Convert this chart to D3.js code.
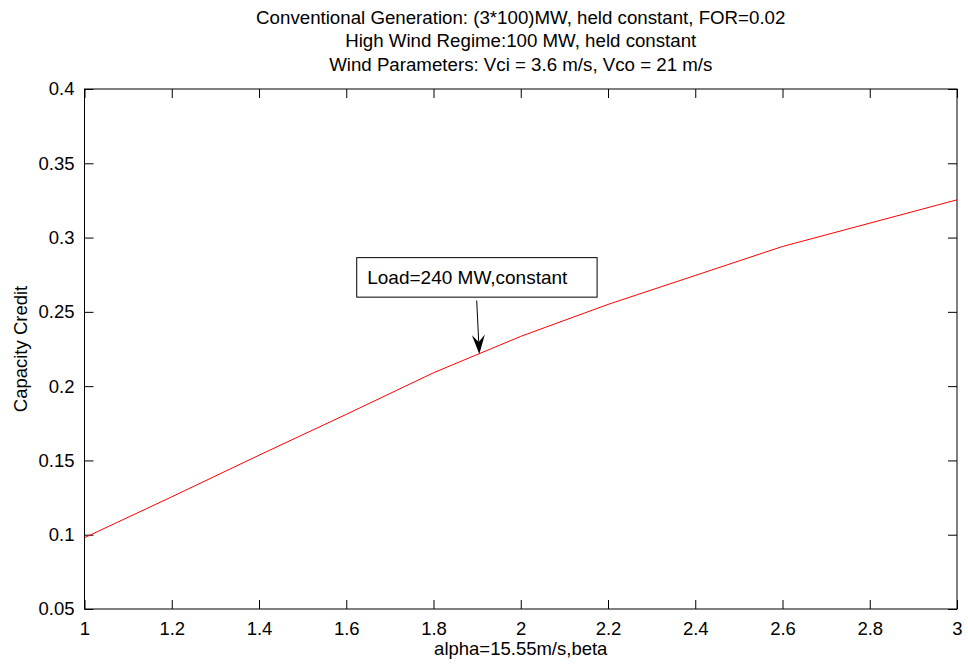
<!DOCTYPE html>
<html>
<head>
<meta charset="utf-8">
<script src="https://cdn.jsdelivr.net/npm/d3@7"></script>
<style>
  body { margin: 0; background: #fff; }
  svg text { font-family: 'Liberation Sans', Arial, sans-serif; fill: #000; }
</style>
</head>
<body>
<svg id="chart" width="968" height="665"></svg>
<script>
// alpha (shape parameter) values on the x axis
const alphas = [1, 1.2, 1.4, 1.6, 1.8, 2, 2.2, 2.4, 2.6, 2.8, 3]
// capacity credit
const credits = [0.098, 0.1255, 0.1535, 0.181, 0.209, 0.2335, 0.255, 0.2745, 0.294, 0.3097, 0.3254]

const xTicks = [1, 1.2, 1.4, 1.6, 1.8, 2, 2.2, 2.4, 2.6, 2.8, 3]
const yTicks = [0.05, 0.1, 0.15, 0.2, 0.25, 0.3, 0.35, 0.4]

const titleLines = [
  'Conventional Generation: (3*100)MW, held constant, FOR=0.02',
  'High Wind Regime:100 MW, held constant',
  'Wind Parameters: Vci = 3.6 m/s, Vco = 21 m/s'
]
const xLabel = 'alpha=15.55m/s,beta'
const yLabel = 'Capacity Credit'
const noteText = 'Load=240 MW,constant'

const margin = { top: 89, right: 11, bottom: 56, left: 84.5 }
const width = 968
const height = 665
const fontSize = 18.5

const svg = d3.select('#chart')

const x = d3.scaleLinear()
  .domain([1, 3])
  .range([margin.left, width - margin.right])

const y = d3.scaleLinear()
  .domain([0.05, 0.4])
  .range([height - margin.bottom, margin.top])

const tickLen = 9

// frame
svg.append('rect')
  .attr('x', x(1))
  .attr('y', y(0.4))
  .attr('width', x(3) - x(1))
  .attr('height', y(0.05) - y(0.4))
  .attr('fill', 'none')
  .attr('stroke', '#000')
  .attr('stroke-width', 1)

// axes with inward ticks (bottom/top, left/right)
const xAxis = g => g
  .attr('transform', `translate(0,${y(0.05)})`)
  .call(d3.axisBottom(x).tickValues(xTicks).tickSizeInner(-tickLen).tickSizeOuter(0).tickPadding(tickLen + 4).tickFormat(d3.format('')))

const xAxisTop = g => g
  .attr('transform', `translate(0,${y(0.4)})`)
  .call(d3.axisTop(x).tickValues(xTicks).tickSizeInner(-tickLen).tickSizeOuter(0).tickFormat(''))

const yAxis = g => g
  .attr('transform', `translate(${x(1)},0)`)
  .call(d3.axisLeft(y).tickValues(yTicks).tickSizeInner(-tickLen).tickSizeOuter(0).tickPadding(tickLen + 1).tickFormat(d3.format('')))

const yAxisRight = g => g
  .attr('transform', `translate(${x(3)},0)`)
  .call(d3.axisRight(y).tickValues(yTicks).tickSizeInner(-tickLen).tickSizeOuter(0).tickFormat(''))

;[xAxis, xAxisTop, yAxis, yAxisRight].forEach(ax => {
  const g = svg.append('g').call(ax)
  g.select('.domain').remove()
  g.selectAll('line').attr('stroke', '#000')
  g.selectAll('text')
    .style('font-family', "'Liberation Sans', Arial, sans-serif")
    .style('font-size', fontSize + 'px')
})

// curve
const line = d3.line()
  .x((d, i) => x(alphas[i]))
  .y(d => y(d))

svg.append('path')
  .datum(credits)
  .attr('d', line)
  .attr('fill', 'none')
  .attr('stroke', '#ff0000')
  .attr('stroke-width', 1)

// titles
titleLines.forEach((t, i) => {
  svg.append('text')
    .attr('x', (x(1) + x(3)) / 2)
    .attr('y', 23.5 + i * 23.5)
    .attr('text-anchor', 'middle')
    .style('font-size', '18.7px')
    .text(t)
})

// axis labels
svg.append('text')
  .attr('x', (x(1) + x(3)) / 2)
  .attr('y', 655)
  .attr('text-anchor', 'middle')
  .style('font-size', fontSize + 'px')
  .text(xLabel)

svg.append('text')
  .attr('transform', `translate(27,${(y(0.05) + y(0.4)) / 2}) rotate(-90)`)
  .attr('text-anchor', 'middle')
  .style('font-size', fontSize + 'px')
  .text(yLabel)

// annotation box and arrow (positions in data units)
const noteBox = { x0: 1.624, x1: 2.175, y0: 0.2865, y1: 0.2599 }
const arrowFrom = [1.899, 0.2576]
const arrowTo = [1.905, 0.2217]

svg.append('rect')
  .attr('x', x(noteBox.x0))
  .attr('y', y(noteBox.y0))
  .attr('width', x(noteBox.x1) - x(noteBox.x0))
  .attr('height', y(noteBox.y1) - y(noteBox.y0))
  .attr('fill', '#fff')
  .attr('stroke', '#000')
  .attr('stroke-width', 1)

svg.append('text')
  .attr('x', x(noteBox.x0) + 10.5)
  .attr('y', (y(noteBox.y0) + y(noteBox.y1)) / 2 + 6.5)
  .style('font-size', '19px')
  .text(noteText)

const ax0 = x(arrowFrom[0]), ay0 = y(arrowFrom[1])
const ax1 = x(arrowTo[0]), ay1 = y(arrowTo[1])
const ang = Math.atan2(ay1 - ay0, ax1 - ax0)
const headLen = 19, headW = 6.5, notch = 12
const pt = (l, w) => [ax1 - l * Math.cos(ang) - w * Math.sin(ang), ay1 - l * Math.sin(ang) + w * Math.cos(ang)]

svg.append('line')
  .attr('x1', ax0).attr('y1', ay0)
  .attr('x2', ax1 - notch * Math.cos(ang)).attr('y2', ay1 - notch * Math.sin(ang))
  .attr('stroke', '#000')
  .attr('stroke-width', 1)

svg.append('path')
  .attr('d', d3.line()([[ax1, ay1], pt(headLen, headW), pt(notch, 0), pt(headLen, -headW)]) + 'Z')
  .attr('fill', '#000')
</script>
</body>
</html>
